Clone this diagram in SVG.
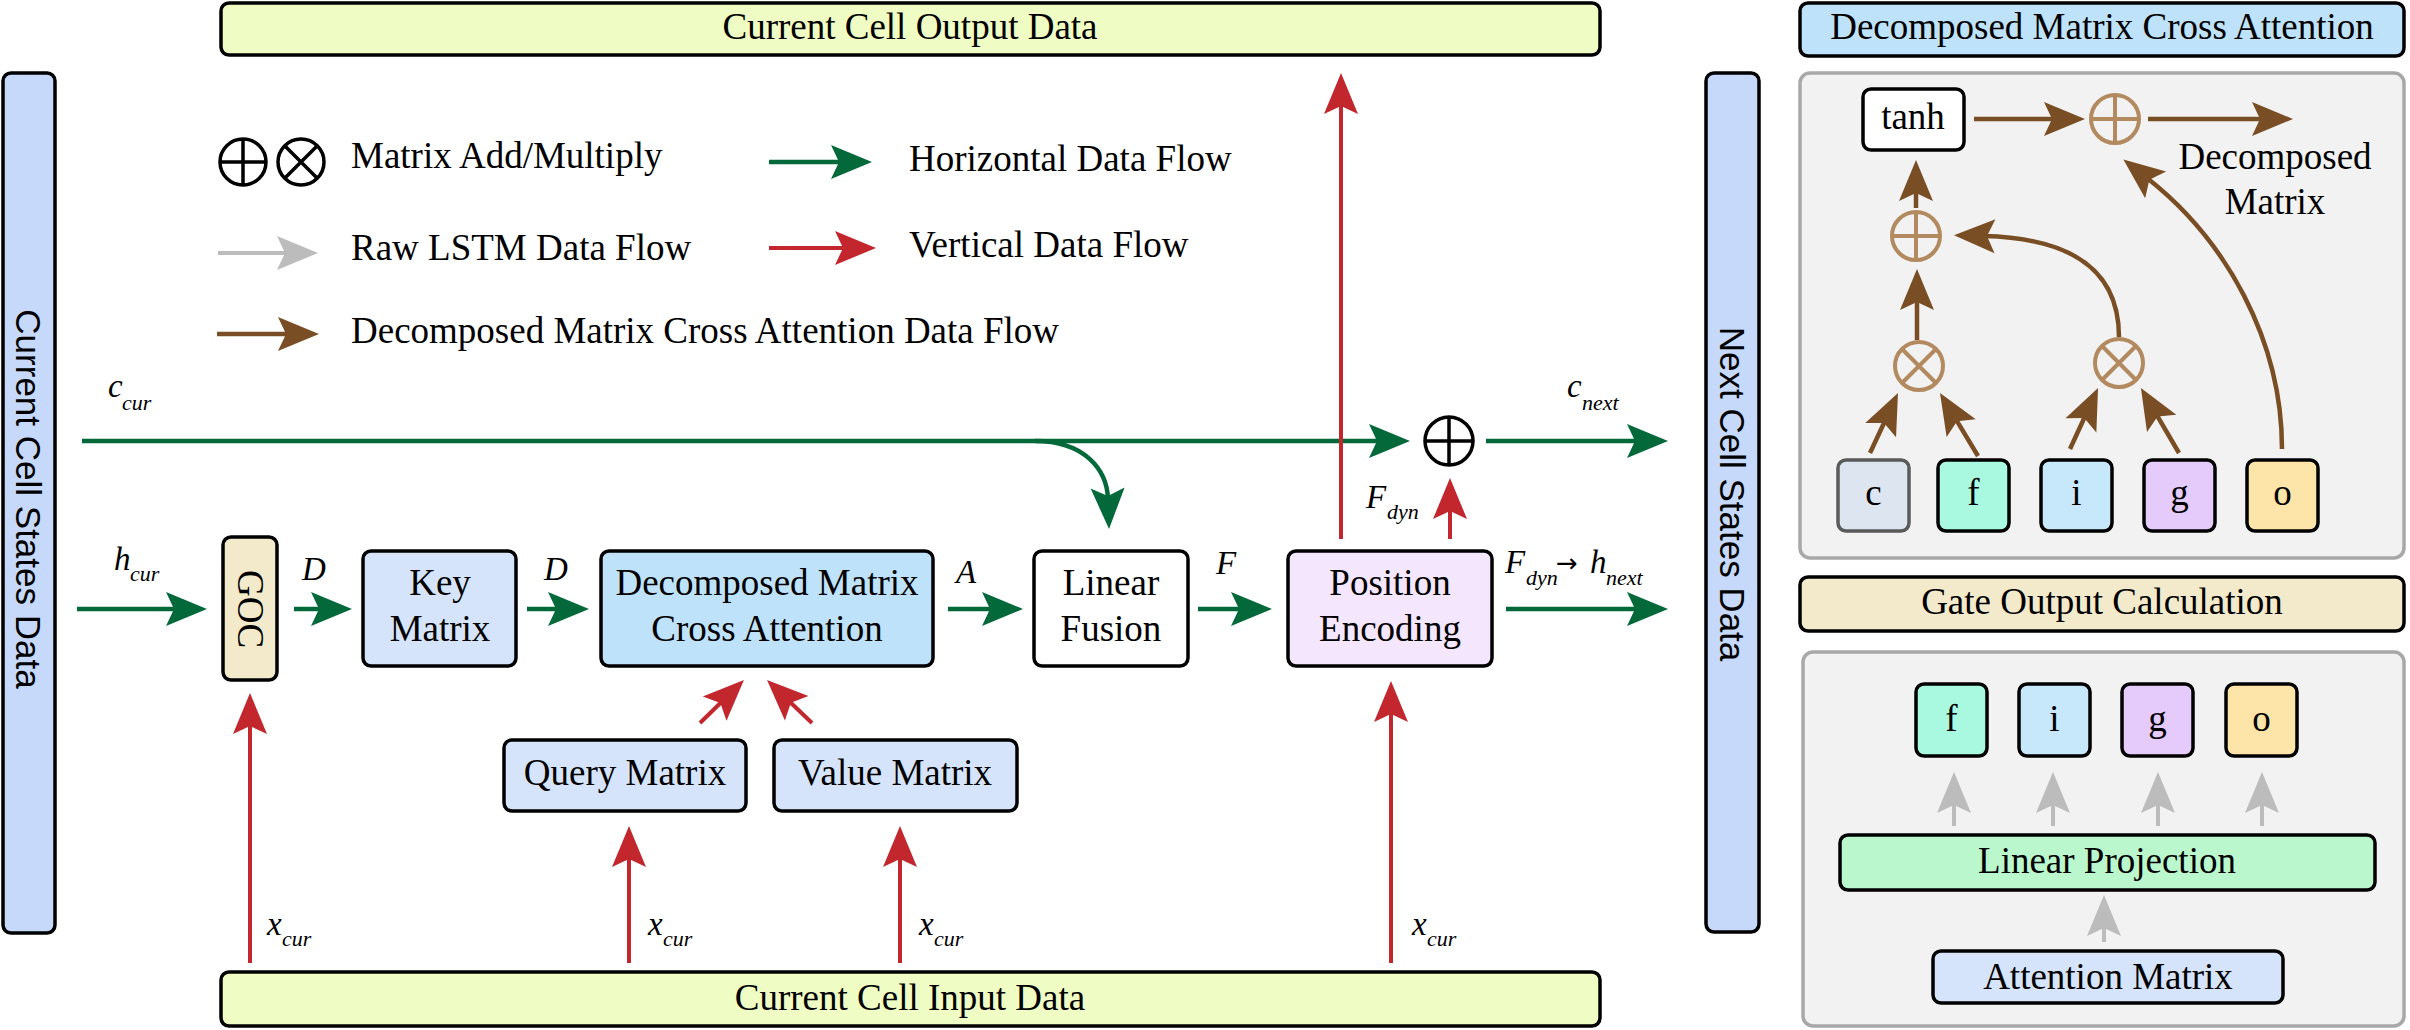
<svg xmlns="http://www.w3.org/2000/svg" width="2410" height="1030" viewBox="0 0 2410 1030">
<defs>
<style>
.bx{stroke:#000;stroke-width:3.5}
.pn{fill:#f1f2f1;stroke:#a8a8a8;stroke-width:3.5}
.t{font-family:"Liberation Serif","Times New Roman",serif;font-size:37px;fill:#000}
.c{text-anchor:middle}
.m{font-family:"Liberation Serif","Times New Roman",serif;font-style:italic;font-size:33px;fill:#000}
.s{font-family:"Liberation Serif","Times New Roman",serif;font-style:italic;font-size:22px;fill:#000}
.sans{font-family:"Liberation Sans",Arial,sans-serif;font-size:35px;fill:#000;text-anchor:middle}
.g{fill:none;stroke:#03693a;stroke-width:4.5;marker-end:url(#ag)}
.r{fill:none;stroke:#c1272d;stroke-width:4;marker-end:url(#ar)}
.b{fill:none;stroke:#7a4e25;stroke-width:4.5;marker-end:url(#ab)}
.y{fill:none;stroke:#bcbcbc;stroke-width:4;marker-end:url(#ay)}
.op{fill:none;stroke:#b38a60;stroke-width:4}
.ok{fill:none;stroke:#000;stroke-width:3.5}
</style>
<marker id="ag" markerUnits="userSpaceOnUse" viewBox="-42 -18 44 36" refX="-30" refY="0" markerWidth="44" markerHeight="36" orient="auto"><path d="M0,0 L-41,-17 L-33,0 L-41,17 Z" fill="#03693a"/></marker>
<marker id="ar" markerUnits="userSpaceOnUse" viewBox="-42 -18 44 36" refX="-30" refY="0" markerWidth="44" markerHeight="36" orient="auto"><path d="M0,0 L-41,-17 L-33,0 L-41,17 Z" fill="#c1272d"/></marker>
<marker id="ab" markerUnits="userSpaceOnUse" viewBox="-42 -18 44 36" refX="-30" refY="0" markerWidth="44" markerHeight="36" orient="auto"><path d="M0,0 L-41,-17 L-33,0 L-41,17 Z" fill="#7a4e25"/></marker>
<marker id="ay" markerUnits="userSpaceOnUse" viewBox="-42 -18 44 36" refX="-30" refY="0" markerWidth="44" markerHeight="36" orient="auto"><path d="M0,0 L-41,-17 L-33,0 L-41,17 Z" fill="#bcbcbc"/></marker>
</defs>
<rect width="2410" height="1030" fill="#fff"/>

<!-- data boxes -->
<g id="output-data"><rect class="bx" x="221" y="3" width="1379" height="52" rx="8" fill="#effcc3"/><text class="t c" x="910" y="39">Current Cell Output Data</text></g>
<g id="input-data"><rect class="bx" x="221" y="972" width="1379" height="54" rx="8" fill="#effcc3"/><text class="t c" x="910" y="1010">Current Cell Input Data</text></g>
<g id="current-states"><rect class="bx" x="3" y="73" width="52" height="860" rx="8" fill="#c6d9fa"/><text class="sans" transform="translate(16,499) rotate(90)">Current Cell States Data</text></g>
<g id="next-states"><rect class="bx" x="1706" y="73" width="53" height="859" rx="8" fill="#c6d9fa"/><text class="sans" transform="translate(1720,494) rotate(90)">Next Cell States Data</text></g>

<!-- legend -->
<g id="legend">
<circle class="ok" cx="243" cy="162" r="23"/><path class="ok" d="M220 162 H266 M243 139 V185"/>
<circle class="ok" cx="301" cy="162" r="23"/><path class="ok" d="M284.7 145.7 L317.3 178.3 M317.3 145.7 L284.7 178.3"/>
<text class="t" x="351" y="168">Matrix Add/Multiply</text>
<path class="y" d="M218 253 H288"/><text class="t" x="351" y="260">Raw LSTM Data Flow</text>
<path class="b" d="M217 334 H289"/><text class="t" x="351" y="343">Decomposed Matrix Cross Attention Data Flow</text>
<path class="g" d="M769 162 H842"/><text class="t" x="909" y="171">Horizontal Data Flow</text>
<path class="r" d="M769 248 H846"/><text class="t" x="909" y="257">Vertical Data Flow</text>
</g>

<!-- main nodes -->
<g id="goc"><rect class="bx" x="223" y="537" width="54" height="143" rx="8" fill="#f3eacb"/><text class="t c" transform="translate(238,609) rotate(90)">GOC</text></g>
<g id="key"><rect class="bx" x="363" y="551" width="153" height="115" rx="8" fill="#d5e4fb"/><text class="t c" x="440" y="595">Key</text><text class="t c" x="440" y="641">Matrix</text></g>
<g id="dmca"><rect class="bx" x="601" y="551" width="332" height="115" rx="8" fill="#bfe2fb"/><text class="t c" x="767" y="595">Decomposed Matrix</text><text class="t c" x="767" y="641">Cross Attention</text></g>
<g id="fusion"><rect class="bx" x="1034" y="551" width="154" height="115" rx="8" fill="#fff"/><text class="t c" x="1111" y="595">Linear</text><text class="t c" x="1111" y="641">Fusion</text></g>
<g id="posenc"><rect class="bx" x="1288" y="551" width="204" height="115" rx="8" fill="#f4e6fd"/><text class="t c" x="1390" y="595">Position</text><text class="t c" x="1390" y="641">Encoding</text></g>
<g id="query"><rect class="bx" x="504" y="740" width="242" height="71" rx="8" fill="#d5e4fb"/><text class="t c" x="625" y="785">Query Matrix</text></g>
<g id="value"><rect class="bx" x="774" y="740" width="243" height="71" rx="8" fill="#d5e4fb"/><text class="t c" x="895" y="785">Value Matrix</text></g>
<g id="add-main"><circle class="ok" cx="1449" cy="441" r="24" stroke-width="4"/><path class="ok" stroke-width="4" d="M1425 441 H1473 M1449 417 V465"/></g>

<!-- right panel -->
<g id="dmca-title"><rect class="bx" x="1800" y="3" width="604" height="53" rx="8" fill="#bfe2fb"/><text class="t c" x="2102" y="39">Decomposed Matrix Cross Attention</text></g>
<g id="dmca-panel"><rect class="pn" x="1800" y="73" width="604" height="485" rx="10"/></g>
<g id="tanh"><rect class="bx" x="1863" y="89" width="101" height="61" rx="8" fill="#fff"/><text class="t c" x="1913" y="129">tanh</text></g>
<g id="add-top"><circle class="op" cx="2115" cy="119" r="24"/><path class="op" d="M2091 119 H2139 M2115 95 V143"/></g>
<g id="add-mid"><circle class="op" cx="1916" cy="236" r="24"/><path class="op" d="M1892 236 H1940 M1916 212 V260"/></g>
<g id="mul-left"><circle class="op" cx="1919" cy="366" r="24"/><path class="op" d="M1902 349 L1936 383 M1936 349 L1902 383"/></g>
<g id="mul-right"><circle class="op" cx="2119" cy="363" r="24"/><path class="op" d="M2102 346 L2136 380 M2136 346 L2102 380"/></g>
<text class="t c" x="2275" y="169">Decomposed</text>
<text class="t c" x="2275" y="214">Matrix</text>
<g id="gate-c"><rect x="1838" y="460" width="71" height="71" rx="8" fill="#dde5f0" stroke="#5a5a5a" stroke-width="3.5"/><text class="t c" x="1873.5" y="505">c</text></g>
<g id="gate-f"><rect class="bx" x="1938" y="460" width="71" height="71" rx="8" fill="#a9f9e0"/><text class="t c" x="1973.5" y="505">f</text></g>
<g id="gate-i"><rect class="bx" x="2041" y="460" width="71" height="71" rx="8" fill="#c7e8fb"/><text class="t c" x="2076.5" y="505">i</text></g>
<g id="gate-g"><rect class="bx" x="2144" y="460" width="71" height="71" rx="8" fill="#e5cbfb"/><text class="t c" x="2179.5" y="505">g</text></g>
<g id="gate-o"><rect class="bx" x="2247" y="460" width="71" height="71" rx="8" fill="#fde4a9"/><text class="t c" x="2282.5" y="505">o</text></g>

<g id="goc-title"><rect class="bx" x="1800" y="577" width="604" height="54" rx="8" fill="#f3eacb"/><text class="t c" x="2102" y="614">Gate Output Calculation</text></g>
<g id="goc-panel"><rect class="pn" x="1803" y="652" width="601" height="374" rx="10"/></g>
<g id="out-f"><rect class="bx" x="1916" y="684" width="71" height="72" rx="8" fill="#a9f9e0"/><text class="t c" x="1951.5" y="731">f</text></g>
<g id="out-i"><rect class="bx" x="2019" y="684" width="71" height="72" rx="8" fill="#c7e8fb"/><text class="t c" x="2054.5" y="731">i</text></g>
<g id="out-g"><rect class="bx" x="2122" y="684" width="71" height="72" rx="8" fill="#e5cbfb"/><text class="t c" x="2157.5" y="731">g</text></g>
<g id="out-o"><rect class="bx" x="2226" y="684" width="71" height="72" rx="8" fill="#fde4a9"/><text class="t c" x="2261.5" y="731">o</text></g>
<g id="linproj"><rect class="bx" x="1840" y="835" width="535" height="55" rx="8" fill="#bbf7cc"/><text class="t c" x="2107" y="873">Linear Projection</text></g>
<g id="attmat"><rect class="bx" x="1933" y="951" width="350" height="52" rx="8" fill="#d5e4fb"/><text class="t c" x="2108" y="989">Attention Matrix</text></g>

<!-- connectors -->
<g id="connectors">
<path class="g" d="M82 441 H1380"/>
<path class="g" d="M1486 441 H1638"/>
<path class="g" d="M1035 441 C1085 441 1107 470 1108 499"/>
<path class="g" d="M77 609 H177"/>
<path class="g" d="M294 609 H322"/>
<path class="g" d="M527 609 H559"/>
<path class="g" d="M948 609 H993"/>
<path class="g" d="M1198 609 H1242"/>
<path class="g" d="M1506 609 H1638"/>

<path class="r" d="M1341 539 V103"/>
<path class="r" d="M1450 539 V508"/>
<path class="r" d="M250 963 V723"/>
<path class="r" d="M629 963 V856"/>
<path class="r" d="M900 963 V856"/>
<path class="r" d="M1391 963 V711"/>
<path class="r" d="M700 723 L722.5 701"/>
<path class="r" d="M812 723 L788.7 700.7"/>

<path class="b" d="M1974 119 H2055"/>
<path class="b" d="M2148 119 H2263"/>
<path class="b" d="M1916 208 V190"/>
<path class="b" d="M1917 340 V299"/>
<path class="b" d="M2119 337 C2119 262 2060 238 1984 236"/>
<path class="b" d="M2282 449 C2282 340 2226 240 2147 178"/>
<path class="b" d="M1870 453 L1885.3 420.2"/>
<path class="b" d="M1978 456 L1955.5 418.7"/>
<path class="b" d="M2070 449 L2085.5 415.3"/>
<path class="b" d="M2179 453 L2156.1 413.9"/>

<path class="y" d="M1954 826 V802"/>
<path class="y" d="M2053 826 V802"/>
<path class="y" d="M2158 826 V802"/>
<path class="y" d="M2262 826 V802"/>
<path class="y" d="M2104 942 V925"/>
</g>

<!-- math labels -->
<g id="labels">
<text class="m" x="108" y="397">c</text><text class="s" x="122" y="410">cur</text>
<text class="m" x="1567" y="397">c</text><text class="s" x="1582" y="410">next</text>
<text class="m" x="114" y="570">h</text><text class="s" x="130" y="581">cur</text>
<text class="m" x="302" y="580">D</text>
<text class="m" x="544" y="580">D</text>
<text class="m" x="956" y="583">A</text>
<text class="m" x="1216" y="574">F</text>
<text class="m" x="1366" y="508">F</text><text class="s" x="1387" y="519">dyn</text>
<text class="m" x="1505" y="573">F</text><text class="s" x="1526" y="585">dyn</text>
<text x="1556" y="572" style="font-family:'DejaVu Sans','Liberation Serif',sans-serif;font-size:26px">→</text>
<text class="m" x="1590" y="573">h</text><text class="s" x="1606" y="585">next</text>
<text class="m" x="267" y="935">x</text><text class="s" x="282" y="946">cur</text>
<text class="m" x="648" y="935">x</text><text class="s" x="663" y="946">cur</text>
<text class="m" x="919" y="935">x</text><text class="s" x="934" y="946">cur</text>
<text class="m" x="1412" y="935">x</text><text class="s" x="1427" y="946">cur</text>
</g>
</svg>
